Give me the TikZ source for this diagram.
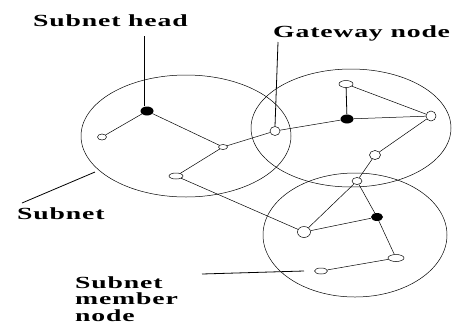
\documentclass[tikz,border=0pt]{standalone}
\usepackage{fontspec}
\newfontfamily\labfont[LetterSpace=3]{Liberation Serif}
\usetikzlibrary{shapes.geometric}
\begin{document}
\begin{tikzpicture}[x=1pt,y=-1pt,
  ring/.style={draw,line width=0.5pt},
  link/.style={draw,line width=0.5pt},
  lead/.style={draw,line width=0.8pt},
  member/.style={draw,ellipse,inner sep=0pt,line width=0.5pt,fill=white,minimum width=#1},
  member/.default=9pt,
  headnode/.style={ellipse,fill=black,inner sep=0pt,minimum width=13pt,minimum height=9pt},
  lab/.style={inner sep=0pt,font=\labfont\bfseries\fontsize{17}{18}\selectfont},
]
\useasboundingbox (0,0) rectangle (452,325);
% subnets
\draw[ring] (186,136) ellipse [x radius=105, y radius=61];
\draw[ring] (351,128) ellipse [x radius=100, y radius=59];
\draw[ring] (355,235) ellipse [x radius=92, y radius=62];
% nodes
\node[headnode] (h1) at (147,111) {};
\node[member,minimum height=6pt] (a1) at (102,137) {};
\node[member,minimum height=5pt] (a2) at (223,147) {};
\node[member=14pt,minimum height=6pt] (a3) at (176,176) {};
\node[member=10pt,minimum height=9pt] (g) at (275,131) {};
\node[headnode] (h2) at (347,119) {};
\node[member=14pt,minimum height=7pt] (b1) at (346,84) {};
\node[member=10pt,minimum height=10pt] (b2) at (431,116) {};
\node[member=11pt,minimum height=9pt] (b3) at (375,155) {};
\node[member=10pt,minimum height=7pt] (c0) at (357,181) {};
\node[headnode,minimum width=12pt,minimum height=8pt] (h3) at (377,217) {};
\node[member=13pt,minimum height=11pt] (c1) at (304,232) {};
\node[member=16pt,minimum height=7pt] (c2) at (396,258) {};
\node[member=13pt,minimum height=6pt] (c3) at (321,271) {};
% links
\draw[link] (h1) -- (a1);
\draw[link] (h1) -- (a2);
\draw[link] (a2) -- (g);
\draw[link] (a2) -- (a3);
\draw[link] (a3) -- (c1);
\draw[link] (g) -- (h2);
\draw[line width=0.8pt] (h2) -- (b1);
\draw[link] (h2) -- (b2);
\draw[link] (b1) -- (b2);
\draw[link] (b2) -- (b3);
\draw[link] (b3) -- (c0);
\draw[link] (c0) -- (c1);
\draw[link] (c0) -- (h3);
\draw[link] (h3) -- (c2);
\draw[link] (h3) -- (c1);
\draw[link] (c2) -- (c3);
% labels
\node[lab,anchor=base west] (lh) at (33,26) {\scalebox{1.63}[1]{Subnet head}};
\node[lab,anchor=base west] (lg) at (273,37) {\scalebox{1.63}[1]{Gateway node}};
\node[lab,anchor=base west] (ls) at (17,219) {\scalebox{1.63}[1]{Subnet}};
\node[lab,anchor=base west,align=left] (lm) at (75,321) {\scalebox{1.63}[1]{Subnet}\\[-1.5pt]\scalebox{1.63}[1]{member}\\[-1.5pt]\scalebox{1.63}[1]{node}};
% leaders
\coordinate (lh1) at (144,36);
\coordinate (lg1) at (278,42);
\coordinate (ls1) at (22,203);
\coordinate (ls2) at (95,172);
\coordinate (lm1) at (202,274);
\coordinate (lm2) at (304,271);
\draw[lead] (lh1) -- (lh1 |- h1.north);
\draw[lead] (lg1) -- (g.north);
\draw[lead] (ls1) -- (ls2);
\draw[lead] (lm1) -- (lm2);
\end{tikzpicture}
\end{document}
